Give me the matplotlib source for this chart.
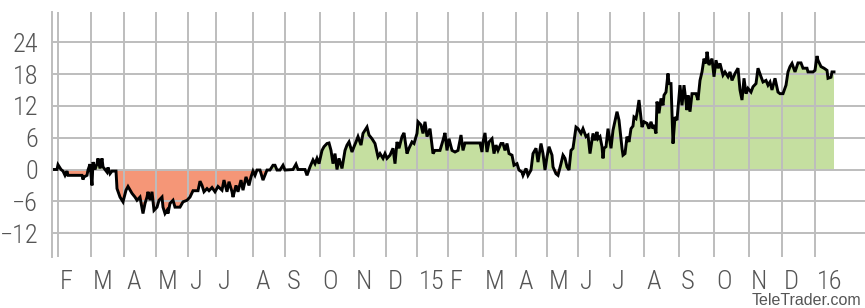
import matplotlib
matplotlib.use("Agg")
import matplotlib.pyplot as plt
import matplotlib.transforms as mtransforms
from matplotlib import font_manager
import numpy as np

# x: Tage ab Ende Januar 2014, y: Veraenderung in %
day = [1, 5, 6, 9, 11, 13, 15, 16, 23, 30, 31, 32, 35, 36, 38, 40, 41, 43, 45, 46,
       48, 50, 51, 53, 55, 56, 58, 60, 64, 65, 68, 71, 74, 76, 80, 83, 85, 88, 91, 93,
       95, 96, 98, 100, 102, 105, 107, 110, 111, 113, 115, 116, 118, 121, 123, 128, 131, 135, 138, 141,
       146, 148, 150, 152, 155, 157, 160, 163, 166, 170, 172, 175, 177, 180, 181, 184, 186, 189, 191, 194,
       197, 199, 201, 203, 205, 208, 211, 215, 218, 221, 223, 225, 228, 231, 233, 241, 244, 246, 253, 255,
       258, 261, 263, 265, 267, 270, 272, 275, 277, 279, 281, 283, 285, 287, 290, 293, 295, 297, 300, 302,
       304, 306, 309, 311, 315, 317, 320, 323, 326, 328, 331, 333, 335, 338, 341, 343, 345, 347, 350, 352,
       355, 357, 360, 362, 365, 366, 369, 371, 373, 375, 378, 381, 383, 388, 391, 393, 395, 397, 400, 403,
       406, 409, 411, 413, 428, 430, 431, 433, 435, 437, 440, 442, 444, 446, 449, 451, 453, 455, 457, 460,
       462, 465, 467, 470, 471, 474, 476, 479, 481, 484, 486, 489, 491, 493, 495, 497, 500, 501, 504, 506,
       509, 511, 513, 515, 517, 519, 521, 524, 526, 529, 531, 534, 536, 538, 541, 543, 545, 546, 548, 550,
       551, 552, 554, 556, 559, 561, 565, 567, 570, 571, 573, 575, 577, 579, 581, 582, 584, 585, 587, 590,
       592, 595, 597, 599, 601, 602, 604, 605, 607, 609, 611, 612, 614, 616, 617, 619, 621, 623, 625, 628,
       630, 632, 635, 636, 638, 640, 644, 646, 648, 650, 652, 654, 655, 657, 660, 662, 664, 666, 668, 671,
       673, 676, 678, 680, 683, 686, 688, 690, 692, 694, 696, 699, 701, 704, 706, 709, 711, 714, 716, 718,
       720, 723, 726, 728, 731, 734, 736, 738, 740, 743, 746, 749, 751, 755, 756, 761, 763, 765, 766, 769,
       772, 775, 776, 779, 780, 782]
change = [0.0, 0.0, 0.9, 0.0, -0.3, -1.1, -0.3, -1.1, -1.1, -1.1, -1.9, -1.4, -1.1, -0.1, 1.0, -3.0, 1.4, 0.0, 1.1, 2.1,
          0.2, 2.1, 0.5, 0.0, -0.5, 0.4, -0.8, -0.3, -0.3, -3.6, -5.2, -6.1, -3.9, -3.2, -4.5, -5.2, -5.8, -5.2, -8.3, -6.4,
          -5.2, -4.2, -5.8, -4.2, -7.7, -7.1, -5.8, -5.2, -7.1, -8.3, -7.7, -8.3, -6.4, -5.8, -7.1, -7.1, -6.1, -5.8, -5.2, -4.0,
          -4.0, -2.2, -3.0, -4.2, -3.6, -4.0, -3.4, -4.2, -3.2, -3.9, -2.0, -4.2, -2.3, -4.2, -5.2, -3.0, -4.2, -2.0, -3.9, -1.4,
          -3.0, -1.4, -0.3, -1.1, -0.1, -0.1, -2.0, -0.1, -0.1, 0.8, 0.8, -0.1, -0.1, 0.8, -0.1, 0.0, 1.0, 0.0, 0.0, -1.1,
          0.5, 1.8, 1.1, 2.1, 1.1, 3.6, 4.3, 4.9, 5.0, 3.6, 1.1, 3.0, 0.0, 2.1, 0.2, 3.6, 4.6, 5.2, 3.3, 4.3,
          5.2, 6.2, 4.6, 6.8, 8.0, 6.5, 5.8, 4.9, 2.4, 3.0, 2.1, 3.0, 2.1, 2.7, 4.0, 1.1, 5.2, 4.0, 6.2, 6.9,
          3.0, 4.0, 5.2, 4.9, 6.8, 9.0, 8.4, 6.8, 9.0, 6.2, 7.7, 3.0, 3.6, 3.6, 5.5, 6.9, 3.6, 5.8, 3.6, 3.3,
          3.6, 6.5, 3.6, 5.0, 5.0, 3.3, 5.2, 6.9, 3.3, 5.2, 5.8, 3.0, 4.6, 3.6, 4.9, 4.9, 3.6, 4.9, 3.0, 2.7,
          0.8, 1.1, -0.1, -0.5, -1.1, 0.2, -1.1, -0.1, 3.0, 4.0, 1.4, 4.9, 3.0, -0.1, 2.4, 4.3, 2.7, 0.5, -0.8, -1.1,
          1.1, 2.7, 2.1, 0.5, -0.1, 3.6, 4.0, 8.0, 7.7, 6.8, 7.7, 6.2, 6.5, 3.0, 6.8, 5.5, 7.1, 5.8, 6.2, 4.3,
          2.1, 4.0, 4.3, 7.7, 4.0, 7.4, 10.9, 9.3, 4.0, 2.7, 3.0, 6.2, 5.2, 7.7, 8.2, 9.9, 9.6, 10.6, 13.1, 8.0,
          9.0, 8.7, 7.7, 9.0, 7.7, 8.4, 6.8, 12.8, 10.6, 13.4, 12.1, 14.0, 14.6, 18.1, 16.2, 16.2, 4.9, 9.9, 9.3, 15.9,
          12.1, 15.9, 11.2, 14.0, 10.9, 14.3, 14.3, 13.1, 16.8, 18.4, 20.9, 20.0, 22.2, 19.7, 20.9, 17.5, 20.6, 19.1, 20.0, 17.8,
          18.4, 17.5, 18.4, 16.8, 18.1, 19.1, 15.0, 13.1, 17.2, 14.3, 15.3, 14.6, 15.6, 16.2, 19.1, 17.5, 16.5, 16.8, 15.9, 16.5,
          15.0, 17.2, 14.6, 14.3, 14.3, 15.9, 18.4, 19.4, 20.0, 18.4, 20.1, 20.1, 19.1, 19.1, 18.4, 18.4, 18.7, 21.4, 20.6, 19.4,
          19.1, 18.7, 17.2, 17.4, 18.4, 18.4]

month_start = [6, 39, 72, 104, 136, 164, 201, 233, 268, 302, 334, 365,
               396, 431, 464, 495, 526, 558, 592, 627, 662, 697, 730, 763]
month_label = ['F', 'M', 'A', 'M', 'J', 'J', 'A', 'S', 'O', 'N', 'D', '15',
               'F', 'M', 'A', 'M', 'J', 'J', 'A', 'S', 'O', 'N', 'D', '16']
y_ticks = [-12, -6, 0, 6, 12, 18, 24]

# schmale Schrift suchen, sonst DejaVu
names = {f.name for f in font_manager.fontManager.ttflist}
narrow = 'DejaVu Sans'
for n in ['Liberation Sans Narrow', 'Roboto Condensed', 'DejaVu Sans Condensed']:
    if n in names:
        narrow = n
        break

grid_col = '#bdbdbd'
lab_col = '#555555'

fig = plt.figure(figsize=(8.65, 3.08), dpi=100)
ax = fig.add_axes([52 / 865, 51 / 308, 813 / 865, 245 / 308])

x = np.array(day)
y = np.array(change)
ax.fill_between(x, y, 0, where=y >= 0, interpolate=True, color='#c5dfa0', lw=0, zorder=0.3)
ax.fill_between(x, y, 0, where=y <= 0, interpolate=True, color='#f59677', lw=0, zorder=0.3)
ax.plot(x, y, color='black', lw=2.1, zorder=2, solid_joinstyle='miter')

ax.set_xlim(0, 813)
ax.set_ylim(-16.5, 29.7)
ax.set_xticks(month_start)
ax.set_yticks(y_ticks)
ax.set_axisbelow(True)
ax.grid(True, color=grid_col, lw=1.4)
ax.tick_params(axis='both', length=0)
ax.tick_params(axis='x', labelbottom=False)
ax.tick_params(axis='y', pad=10, labelsize=19, labelcolor=lab_col)
for t in ax.get_yticklabels():
    t.set_family(narrow)
    t.set_fontweight('light')

for s in ['top', 'right', 'bottom']:
    ax.spines[s].set_visible(False)
ax.spines['left'].set_color(grid_col)
ax.spines['left'].set_linewidth(1.4)

trans = mtransforms.blended_transform_factory(ax.transData, ax.transAxes) + \
    mtransforms.ScaledTranslation(0.02, -0.13, fig.dpi_scale_trans)
for pos, lab in zip(month_start, month_label):
    ax.text(pos, 0, lab, transform=trans, ha='left', va='top', fontsize=19,
            color=lab_col, family=narrow, fontweight='light')

fig.text(861 / 865, 3 / 308, 'TeleTrader.com', ha='right', va='baseline',
         fontsize=11.5, color='#555555', family='Liberation Sans')

fig.savefig('out.png', dpi=100)
